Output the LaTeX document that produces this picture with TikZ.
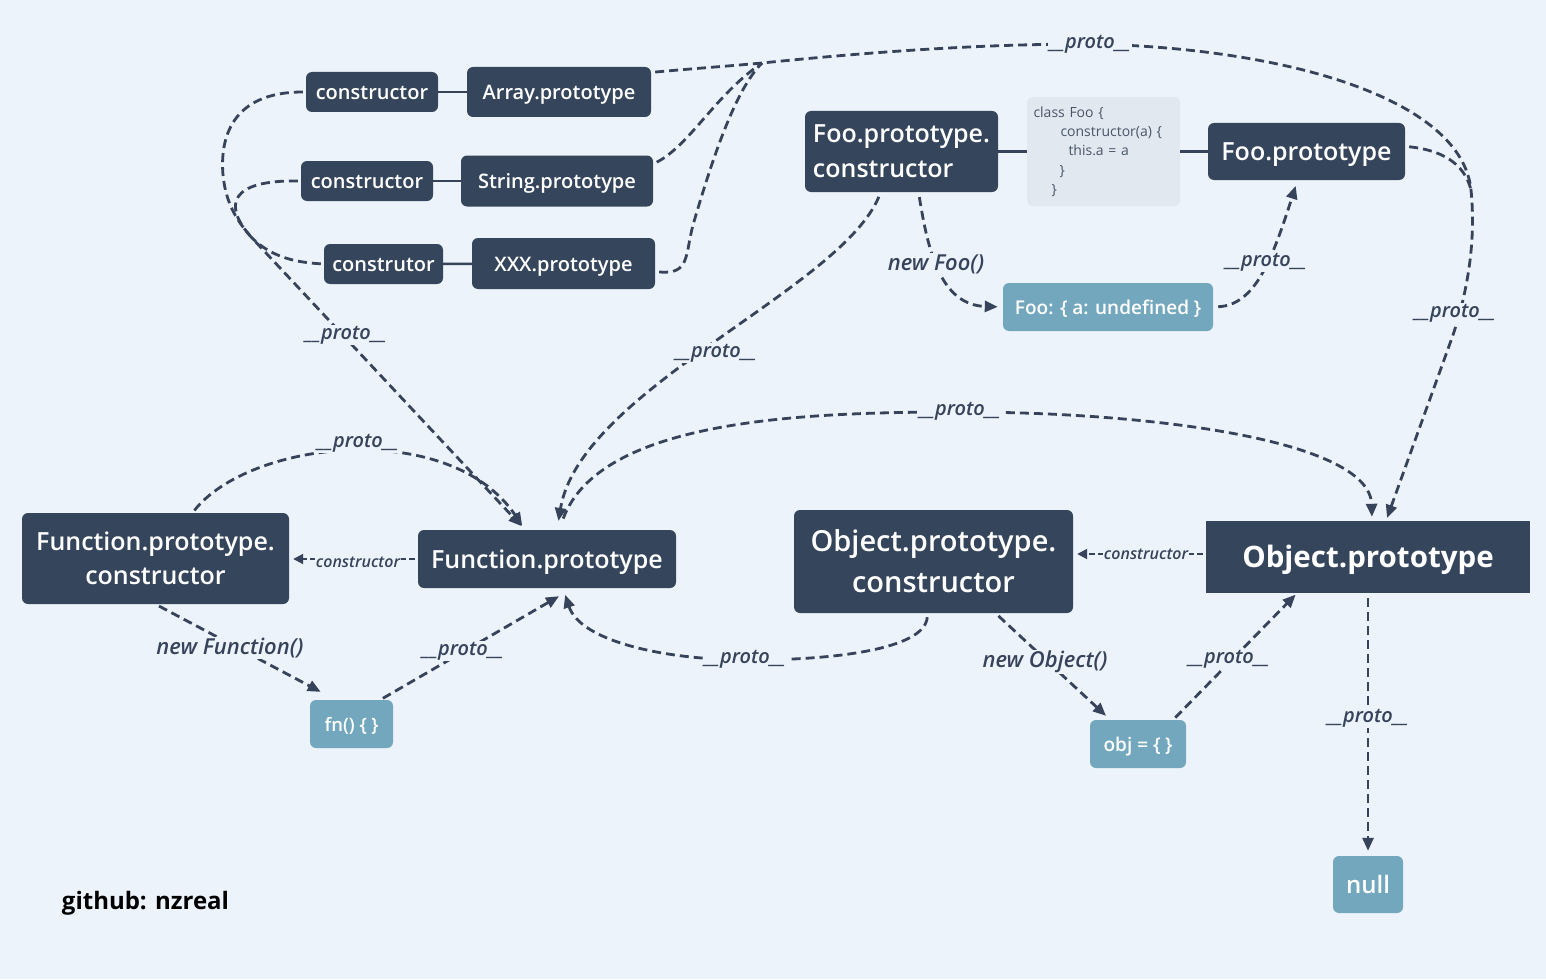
\documentclass[tikz,border=0pt]{standalone}
\usepackage{fontspec}
\setmainfont{Open Sans}[UprightFont={* Semibold}, ItalicFont={* Semibold Italic}, BoldFont={* Bold}]
\newfontfamily\codefont{Open Sans}
\usetikzlibrary{arrows.meta,calc}
\definecolor{bg}{HTML}{ECF3FA}
\definecolor{nodec}{HTML}{35455C}
\definecolor{tealc}{HTML}{72A7BD}
\definecolor{codebg}{HTML}{E1E8EF}
\definecolor{codetx}{HTML}{4A5568}
\definecolor{linec}{HTML}{36435A}
\tikzset{
 dnode/.style={fill=nodec, text=white, rounded corners=6pt, inner sep=0pt},
 tnode/.style={fill=tealc, text=white, rounded corners=6pt, inner sep=0pt},
 link/.style={draw=linec, line width=2.5pt},
 rel/.style={draw=linec, line width=2.8pt, dash pattern=on 9pt off 5pt, -{Triangle[length=13pt,width=11pt]}},
 relnoarrow/.style={draw=linec, line width=2.8pt, dash pattern=on 9pt off 5pt},
 relthin/.style={draw=linec, line width=2pt, dash pattern=on 6pt off 3pt, -{Triangle[length=10pt,width=10pt]}},
 lbl/.style={fill=bg, text=linec, font=\fontsize{20}{22}\selectfont\itshape, inner sep=1pt},
 newlbl/.style={fill=bg, text=linec, font=\fontsize{22}{24}\selectfont\itshape, inner sep=1pt},
 smalllbl/.style={fill=bg, text=linec, font=\fontsize{16}{18}\selectfont\itshape, inner sep=1pt},
 fs20/.style={font=\fontsize{20}{24}\selectfont, text height=16pt, text depth=1pt},
 fs25/.style={font=\fontsize{25}{34}\selectfont},
 fs25s/.style={font=\fontsize{25}{34}\selectfont, text height=19pt, text depth=1pt},
}
\begin{document}
\begin{tikzpicture}[x=1pt,y=-1pt]
\fill[bg] (0,0) rectangle (1546,979);
\useasboundingbox (0,0) rectangle (1546,979);

% nodes
\node[dnode, fs20, minimum width=132pt, minimum height=40pt] (ctorA) at (372,92) {constructor};
\node[dnode, fs20, minimum width=184pt, minimum height=50pt] (arrayP) at (559,92) {Array.prototype};
\node[dnode, fs20, minimum width=132pt, minimum height=40pt] (ctorS) at (367,181) {constructor};
\node[dnode, fs20, minimum width=192pt, minimum height=51pt] (stringP) at (557,181) {String.prototype};
\node[dnode, fs20, minimum width=119pt, minimum height=40pt] (ctorX) at (383.5,264) {construtor};
\node[dnode, fs20, minimum width=183pt, minimum height=51pt] (xxxP) at (563.5,263.5) {XXX.prototype};

\node[dnode, font=\fontsize{25}{35}\selectfont, minimum width=193pt, minimum height=81pt, align=left] (fooPC) at (901.5,151.5) {Foo.prototype.\\constructor};
\node[fill=codebg, rounded corners=6pt, minimum width=153pt, minimum height=109pt, inner sep=0pt, text=codetx, font=\codefont\fontsize{14}{19.3}\selectfont, align=left, text width=140pt] (code) at (1103.5,151.5) {class Foo \{\\\hspace*{27pt}constructor(a) \{\\\hspace*{35pt}this.a = a\\\hspace*{26pt}\}\\\hspace*{18pt}\}};
\node[dnode, fs25s, minimum width=197pt, minimum height=57pt] (fooP) at (1306.5,151.5) {Foo.prototype};
\node[tnode, font=\fontsize{19}{22}\selectfont, text height=15pt, text depth=1pt, minimum width=210pt, minimum height=48pt] (fooObj) at (1108,307) {Foo: \{ a: undefined \}};

\node[dnode, fs25, minimum width=267pt, minimum height=91pt, align=center] (fpc) at (155.5,558.5) {Function.prototype.\\constructor};
\node[dnode, fs25s, minimum width=258pt, minimum height=58pt] (fp) at (547,559) {Function.prototype};
\node[tnode, font=\fontsize{18.5}{22}\selectfont, text height=15pt, text depth=1pt, minimum width=83pt, minimum height=48pt] (fn) at (351.5,724) {fn() \{ \}};

\node[dnode, font=\fontsize{29}{41}\selectfont, minimum width=279pt, minimum height=103pt, align=center] (opc) at (933.5,561.5) {Object.prototype.\\constructor};
\node[fill=nodec, text=white, inner sep=0pt, font=\fontsize{29.5}{34}\selectfont\bfseries, text height=22pt, text depth=1pt, minimum width=324pt, minimum height=72pt] (op) at (1368,557) {Object.prototype};
\node[tnode, font=\fontsize{19}{22}\selectfont, text height=15pt, text depth=1pt, minimum width=96pt, minimum height=48pt] (obj) at (1138,744) {obj = \{ \}};
\node[tnode, font=\fontsize{24}{28}\selectfont, text height=18pt, text depth=1pt, minimum width=70pt, minimum height=57pt] (null) at (1368,884.5) {null};

\node[text=black, font=\fontsize{24}{26}\selectfont\bfseries, inner sep=0pt] (gh) at (145.5,903) {github: nzreal};

% solid links
\draw[link] (ctorA) -- (arrayP);
\draw[link] (ctorS) -- (stringP);
\draw[link] (ctorX) -- (xxxP);
\draw[link] (fooPC) -- (code);
\draw[link] (code) -- (fooP);

% merge coordinates
\coordinate (M) at (762,63);
\coordinate (J) at (1471,190);
\coordinate (L) at (252,238);

% Array/String/XXX/Foo -> Object.prototype
\draw[rel, shorten <=4pt, shorten >=3pt] (arrayP.12) .. controls (700,68) and (730,66) .. (M) .. controls (870,52) and (980,44) .. (1090,44) .. controls (1290,48) and (1462,100) .. (J) .. controls (1476,240) and (1468,290) .. (1453,335) -- ([xshift=18pt]op.north);
\draw[relnoarrow, shorten <=4pt] (stringP.10) .. controls (690,145) and (715,95) .. (M);
\draw[relnoarrow, shorten <=4pt] (xxxP.-5) .. controls (690,275) and (685,255) .. (693,225) .. controls (712,160) and (735,90) .. (M);
\draw[relnoarrow, shorten <=4pt] (fooP.3) .. controls (1440,150) and (1464,162) .. (J);

% constructors -> Function.prototype
\draw[rel, shorten <=3pt, shorten >=5pt] (ctorA.west) .. controls (230,92) and (220,140) .. (223,175) .. controls (226,205) and (238,222) .. (L) -- ([xshift=-22pt]fp.north);
\draw[relnoarrow, shorten <=3pt] (ctorS.west) .. controls (230,180) and (222,205) .. (L);
\draw[relnoarrow, shorten <=3pt] (ctorX.west) .. controls (290,262) and (270,255) .. (L);

% Function.prototype.constructor -> Function.prototype
\draw[rel, shorten <=3pt, shorten >=5pt] (fpc.51) .. controls (250,440) and (450,418) .. ([xshift=-22pt]fp.north);
% Foo.prototype.constructor -> Function.prototype
\draw[rel, shorten <=5pt, shorten >=9pt] (fooPC.243) .. controls (840,290) and (580,390) .. ([xshift=10pt]fp.north);
% Function.prototype -> Object.prototype
\draw[rel, shorten <=12pt, shorten >=4pt] ([xshift=12pt]fp.north) .. controls (600,420) and (800,412) .. (960,412) .. controls (1150,412) and (1370,440) .. ([xshift=4pt]op.north);
% Object.prototype.constructor -> Function.prototype
\draw[rel, shorten <=4pt, shorten >=7pt] ([xshift=-6pt]opc.south) .. controls (925,650) and (830,660) .. (750,660) .. controls (660,660) and (580,640) .. ([xshift=16pt]fp.south);
% fn -> Function.prototype
\draw[rel, shorten <=3pt] (fn.40) -- ([xshift=12pt,yshift=-8pt]fp.south);
% new Function()
\draw[rel, shorten <=4pt, shorten >=2pt] (fpc.south) -- ([xshift=-29pt,yshift=7pt]fn.north);
% constructor links
\draw[relthin, shorten <=3pt, shorten >=4pt] (fp.west) -- (fp.west -| fpc.east);
\draw[relthin, shorten <=3pt, shorten >=4pt] ([yshift=3pt]op.west) -- ([yshift=3pt]op.west -| opc.east);
% new Object()
\draw[rel, shorten <=4pt] ([xshift=62pt]opc.south) -- ([xshift=-32pt,yshift=4pt]obj.north);
% obj -> Object.prototype
\draw[rel, shorten <=3pt, shorten >=2pt] ([xshift=-13pt]obj.north east) -- ([xshift=-71pt]op.south);
% Object.prototype -> null
\draw[rel, shorten <=5pt, shorten >=5pt] (op.south) -- (null.north);
% new Foo()
\draw[rel, shorten <=5pt, shorten >=5pt] ([xshift=17pt]fooPC.south) .. controls (928,250) and (940,305) .. (fooObj.west);
% Foo obj -> Foo.prototype
\draw[rel, shorten <=5pt, shorten >=6pt] (fooObj.east) .. controls (1255,305) and (1272,260) .. ([xshift=-9pt]fooP.south);

% labels
\node[lbl] (lb1) at (1090,44) {\_\_proto\_\_};
\node[lbl] (lb2) at (1455,313) {\_\_proto\_\_};
\node[lbl] (lb3) at (346,335) {\_\_proto\_\_};
\node[lbl] (lb4) at (358,443) {\_\_proto\_\_};
\node[lbl] (lb5) at (716,353) {\_\_proto\_\_};
\node[lbl] (lb6) at (960,411) {\_\_proto\_\_};
\node[lbl] (lb7) at (745,659) {\_\_proto\_\_};
\node[lbl] (lb8) at (463,651) {\_\_proto\_\_};
\node[lbl] (lb9) at (1229,659) {\_\_proto\_\_};
\node[lbl] (lb10) at (1368,718) {\_\_proto\_\_};
\node[lbl] (lb11) at (1266,262) {\_\_proto\_\_};
\node[newlbl] (lb12) at (230,648) {new Function()};
\node[newlbl] (lb13) at (936,264) {new Foo()};
\node[newlbl] (lb14) at (1045,662) {new Object()};
\node[smalllbl] (lb15) at (358,562) {constructor};
\node[smalllbl] (lb16) at (1146,554) {constructor};
\end{tikzpicture}
\end{document}
